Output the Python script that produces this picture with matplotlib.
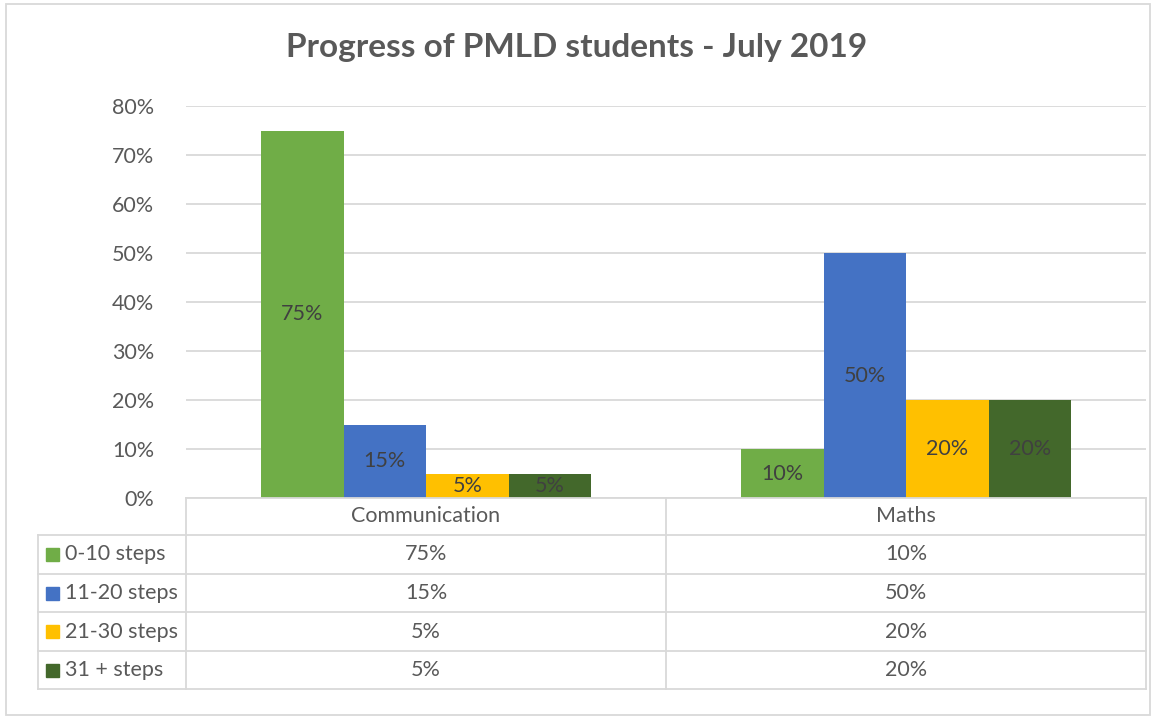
import matplotlib
matplotlib.use('Agg')
import matplotlib.pyplot as plt
from matplotlib.patches import Rectangle
from matplotlib.lines import Line2D

# chart data
categories = ['Communication', 'Maths']
series_names = ['0-10 steps', '11-20 steps', '21-30 steps', '31 + steps']
series_values = [
    [75, 10],
    [15, 50],
    [5, 20],
    [5, 20],
]
colors = ['#70AD47', '#4472C4', '#FFC000', '#43682B']
y_ticks = [0, 10, 20, 30, 40, 50, 60, 70, 80]
title = 'Progress of PMLD students - July 2019'

W, H = 1153, 717
plt.rcParams['font.family'] = ['Lato', 'DejaVu Sans']
text_grey = '#595959'
line_grey = '#D9D9D9'
fs = 15.5

fig = plt.figure(figsize=(W / 100, H / 100), dpi=100)


def fx(px):
    return px / W


def fy(py):
    return 1 - py / H


# plot area in pixels
left, right, top, bottom = 186, 1146, 106, 498
ax = fig.add_axes([fx(left), fy(bottom), fx(right - left), (bottom - top) / H])

n = len(series_names)
bar_w = 82.5 / 480
for i, (name, vals) in enumerate(zip(series_names, series_values)):
    xs = [c + (i - (n - 1) / 2) * bar_w for c in range(len(categories))]
    bars = ax.bar(xs, vals, width=bar_w, color=colors[i], zorder=3)
    for b, v in zip(bars, vals):
        ax.text(b.get_x() + b.get_width() / 2, v / 2, f'{v}%', ha='center', va='center',
                fontsize=fs, color='#404040', zorder=4)

ax.set_xlim(-0.5, len(categories) - 0.5)
ax.set_ylim(0, 80)
ax.set_yticks(y_ticks)
ax.set_yticklabels([f'{t}%' for t in y_ticks])
ax.tick_params(axis='y', length=0, pad=23, labelsize=fs, labelcolor=text_grey)
ax.set_xticks([])
ax.grid(axis='y', color=line_grey, linewidth=1.3, zorder=0)
for s in ax.spines.values():
    s.set_visible(False)

fig.text(0.5, fy(48), title, ha='center', va='center', fontsize=24,
         fontweight='bold', color=text_grey)

# data table below the plot
row_edges = [498, 535, 574, 612, 651, 689]
col_edges = [186, 666, 1146]
label_left = 38


def hline(x0, x1, y):
    fig.add_artist(Line2D([fx(x0), fx(x1)], [fy(y), fy(y)], color=line_grey, linewidth=1.3))


def vline(x, y0, y1):
    fig.add_artist(Line2D([fx(x), fx(x)], [fy(y0), fy(y1)], color=line_grey, linewidth=1.3))


hline(col_edges[0], col_edges[-1], row_edges[0])
for y in row_edges[1:]:
    hline(label_left, col_edges[-1], y)
for x in col_edges:
    vline(x, row_edges[0], row_edges[-1])
vline(label_left, row_edges[1], row_edges[-1])

for j, cat in enumerate(categories):
    cx = (col_edges[j] + col_edges[j + 1]) / 2
    cy = (row_edges[0] + row_edges[1]) / 2
    fig.text(fx(cx), fy(cy), cat, ha='center', va='center', fontsize=fs, color=text_grey)

for i, name in enumerate(series_names):
    cy = (row_edges[i + 1] + row_edges[i + 2]) / 2
    fig.add_artist(Rectangle((fx(46), fy(cy + 6.5)), fx(13), 13 / H, color=colors[i],
                             transform=fig.transFigure))
    fig.text(fx(65), fy(cy), name, ha='left', va='center', fontsize=fs, color=text_grey)
    for j in range(len(categories)):
        cx = (col_edges[j] + col_edges[j + 1]) / 2
        fig.text(fx(cx), fy(cy), f'{series_values[i][j]}%', ha='center', va='center',
                 fontsize=fs, color=text_grey)

# chart border
fig.add_artist(Rectangle((fx(6), fy(715)), fx(1144), 711 / H, fill=False,
                         edgecolor=line_grey, linewidth=1.3, transform=fig.transFigure))

fig.savefig('out.png', dpi=100)
